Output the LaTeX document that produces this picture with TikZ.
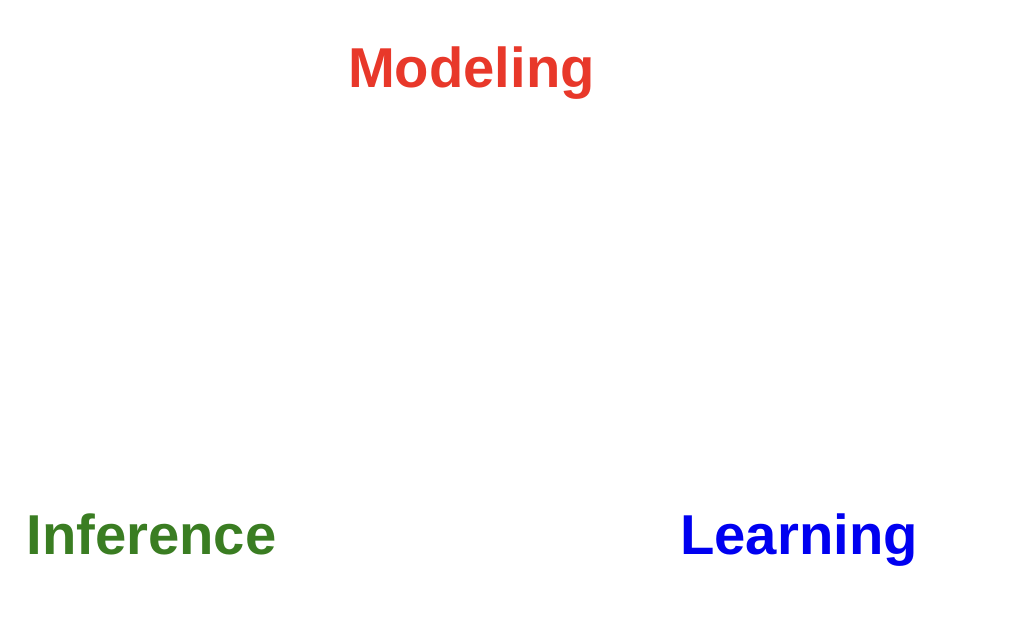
\documentclass[tikz,border=0pt]{standalone}
\usepackage{fontspec}
\setmainfont{Liberation Sans}
\usepackage{tikz}

\definecolor{modelred}{HTML}{E8382A}
\definecolor{infergreen}{HTML}{3A7D22}
\definecolor{learnblue}{HTML}{0000F0}

\begin{document}
\begin{tikzpicture}
% Page frame
\useasboundingbox (0,0) rectangle (10.18,6.42);

% The three words
\tikzset{word/.style={font=\fontsize{16pt}{18pt}\selectfont\bfseries, anchor=base, inner sep=0pt}}
\node[word, text=modelred] (modeling) at (4.715, 5.54) {Modeling};
\node[word, text=infergreen] (inference) at (1.515, 0.87) {Inference};
\node[word, text=learnblue] (learning) at (7.99, 0.87) {Learning};

\end{tikzpicture}
\end{document}
